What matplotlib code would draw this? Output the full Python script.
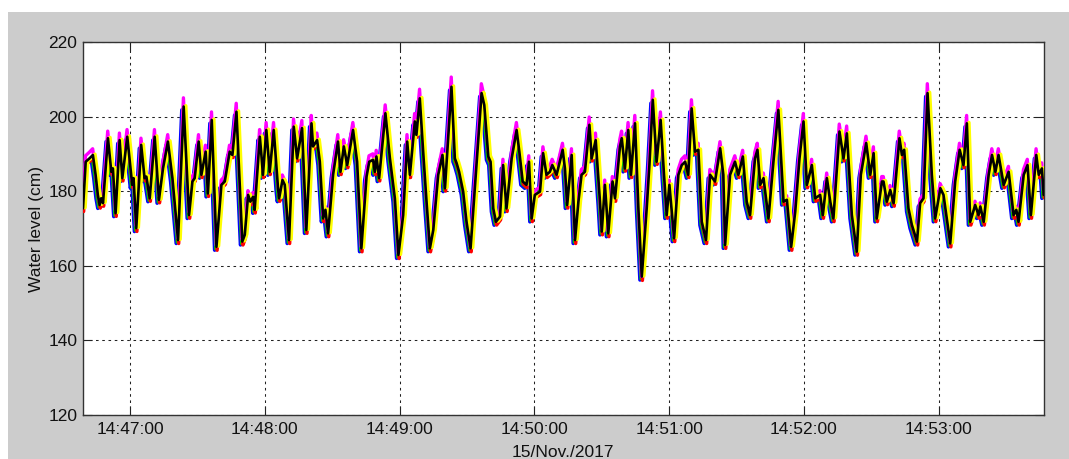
import datetime as dt
import matplotlib
matplotlib.use("Agg")
import matplotlib.pyplot as plt
import matplotlib.dates as mdates
from matplotlib.patches import Rectangle

# Reference gauge record: seconds after 14:47:00 and water level (cm)
elapsed_s = [
    -20.9, -19.7, -18.0, -16.5, -15.3, -14.3, -13.5, -12.8, -12.0, -9.8,
    -8.3, -7.6, -6.4, -4.6, -3.4, -1.2, 1.0, 1.6, 2.8, 5.0,
    6.5, 7.3, 8.8, 11.0, 12.9, 14.7, 16.9, 18.9, 21.4, 23.9,
    26.3, 27.8, 28.8, 30.6, 31.8, 33.7, 34.7, 36.4, 38.5, 40.7,
    42.2, 44.4, 45.6, 47.4, 50.0, 51.1, 52.6, 53.6, 54.8, 55.5,
    57.8, 58.5, 59.2, 60.7, 62.2, 64.0, 65.9, 66.4, 67.9, 68.9,
    70.8, 72.9, 74.4, 76.6, 78.5, 80.8, 81.5, 83.3, 84.5, 86.0,
    87.0, 88.2, 90.4, 92.6, 93.7, 95.2, 96.7, 99.3, 101.1, 103.0,
    105.3, 106.5, 108.2, 109.0, 109.7, 110.9, 113.7, 115.7, 117.9, 119.5,
    121.6, 123.4, 124.6, 126.8, 127.5, 129.0, 130.5, 132.0, 133.5, 135.0,
    137.2, 139.1, 140.2, 143.1, 144.6, 145.4, 146.5, 148.3, 149.8, 151.6,
    156.5, 157.7, 159.5, 160.5, 161.7, 162.9, 164.7, 166.1, 167.6, 169.9,
    172.1, 173.3, 174.8, 176.5, 177.6, 178.8, 180.2, 182.5, 183.9, 185.4,
    186.9, 188.0, 189.9, 192.6, 193.6, 194.6, 196.6, 198.1, 199.6, 201.0,
    202.5, 204.5, 205.5, 207.3, 209.2, 210.0, 211.4, 212.9, 214.8, 215.9,
    218.1, 218.9, 220.3, 221.8, 223.0, 224.8, 226.3, 227.8, 230.0, 231.2,
    232.7, 234.4, 236.2, 237.7, 238.9, 240.1, 242.2, 244.1, 245.6, 247.1,
    248.5, 250.0, 251.5, 253.0, 254.5, 256.4, 258.2, 260.4, 262.7, 264.1,
    264.9, 267.1, 269.3, 270.8, 272.8, 274.5, 276.0, 278.2, 279.3, 280.5,
    282.0, 284.2, 286.4, 288.6, 290.9, 292.4, 294.3, 296.1, 298.0, 299.8,
    301.3, 303.5, 305.0, 307.2, 308.4, 310.2, 311.7, 313.1, 315.8, 317.6,
    319.1, 321.3, 323.5, 325.3, 327.7, 329.5, 331.0, 332.4, 334.7, 335.4,
    336.9, 338.4, 339.9, 342.5, 343.6, 344.6, 346.5, 348.0, 350.3, 351.7,
    353.2, 355.0, 356.9, 358.4, 360.7, 362.1, 365.1, 367.3, 369.3, 371.0,
    372.5, 374.0, 376.2, 377.7, 378.5, 380.0, 382.2, 383.7, 385.2, 386.6,
    388.9, 391.1, 393.3, 394.5, 395.5, 397.8, 399.5, 401.0, 403.4, 404.5,
    405.9, 406.7,
]
level_cm = [
    175.4, 187.9, 188.8, 189.7, 184.4, 179.0, 176.3, 178.1, 176.8, 194.2,
    185.2, 186.1, 174.1, 193.7, 183.5, 194.6, 181.7, 183.5, 170.1, 192.4,
    183.5, 183.9, 178.1, 194.6, 177.7, 186.1, 193.3, 183.5, 166.9, 202.7,
    173.6, 182.6, 183.5, 193.3, 184.4, 190.6, 179.4, 199.1, 165.1, 181.7,
    182.6, 190.6, 189.7, 201.3, 166.5, 168.3, 179.0, 177.2, 178.5, 175.0,
    194.6, 189.7, 184.4, 196.4, 185.2, 196.4, 180.8, 178.1, 183.0, 181.7,
    166.9, 197.3, 188.8, 196.9, 169.6, 198.2, 192.0, 193.7, 187.9, 172.7,
    175.0, 168.7, 184.4, 193.3, 185.2, 192.0, 187.0, 196.4, 187.9, 164.7,
    183.9, 187.9, 188.4, 185.2, 189.3, 183.5, 200.9, 188.8, 178.1, 162.9,
    173.6, 193.3, 184.4, 198.7, 195.1, 204.9, 190.6, 177.2, 164.7, 169.6,
    184.4, 189.7, 180.8, 208.0, 188.8, 187.5, 185.2, 179.9, 171.8, 164.7,
    206.3, 203.1, 189.3, 187.9, 175.4, 171.8, 173.2, 187.0, 175.4, 188.8,
    196.4, 190.6, 182.6, 181.7, 187.9, 172.7, 179.0, 179.9, 190.2, 184.4,
    185.2, 187.0, 184.4, 191.1, 186.1, 176.3, 189.7, 166.9, 177.2, 184.4,
    185.2, 197.8, 188.8, 193.7, 177.2, 169.2, 181.7, 168.7, 182.6, 178.1,
    192.0, 194.2, 186.1, 196.4, 184.4, 198.2, 175.4, 157.1, 175.4, 187.0,
    204.5, 187.9, 199.1, 184.4, 173.6, 181.7, 167.4, 184.4, 187.0, 187.9,
    184.4, 202.2, 190.6, 191.1, 171.8, 166.9, 184.4, 182.6, 191.5, 184.4,
    165.6, 184.4, 187.9, 184.4, 189.3, 177.2, 173.6, 188.8, 191.1, 181.7,
    183.5, 172.7, 187.9, 201.8, 177.2, 177.7, 165.1, 174.5, 188.8, 198.7,
    181.7, 187.0, 178.1, 179.0, 173.6, 183.5, 177.2, 172.7, 196.0, 188.8,
    195.5, 173.6, 163.8, 184.4, 192.9, 184.4, 190.2, 172.7, 182.6, 182.6,
    177.2, 180.3, 176.8, 194.2, 189.7, 191.1, 175.4, 171.0, 166.5, 176.8,
    178.1, 206.3, 184.4, 172.7, 180.8, 179.0, 166.0, 182.6, 191.1, 187.0,
    198.2, 171.8, 176.3, 173.6, 175.9, 171.8, 184.4, 189.7, 185.2, 189.7,
    181.7, 185.2, 173.6, 175.0, 171.8, 184.4, 187.0, 173.6, 189.7, 184.4,
    186.1, 179.0,
]

# Sensors: colour, gain about the mean level, level offset (cm), time lag (s)
sensor_colors = ["#0000ff", "#00c800", "#ff0000", "#ff00ff", "#ffff00", "#000000"]
sensor_gain = [1.00, 1.00, 1.01, 1.05, 1.00, 1.00]
sensor_offset_cm = [-0.9, -0.6, -0.8, 1.2, 0.2, 0.0]
sensor_lag_s = [-0.8, -0.3, 0.3, -0.1, 0.9, 0.0]
sensor_width = [2.6, 2.4, 2.4, 2.4, 2.6, 1.9]
mean_level_cm = 180.0

y_ticks = [120, 140, 160, 180, 200, 220]
x_label = "15/Nov./2017"
y_label = "Water level (cm)"

start = dt.datetime(2017, 11, 15, 14, 47, 0)

plt.rcParams["font.family"] = ["Liberation Sans", "DejaVu Sans"]

fig = plt.figure(figsize=(10.69, 4.59), dpi=100, facecolor="white")
# grey panel behind the axes, leaving a thin white margin at top and left
fig.patches.append(Rectangle((8 / 1069, 0), 1 - 8 / 1069, 1 - 12 / 459,
                             transform=fig.transFigure, facecolor="#cccccc",
                             edgecolor="none", zorder=-10))

ax = fig.add_axes([83 / 1069, 44 / 459, 960.7 / 1069, 373 / 459], zorder=1)
ax.set_facecolor("white")

for color, gain, off, lag, lw in zip(sensor_colors, sensor_gain, sensor_offset_cm,
                                     sensor_lag_s, sensor_width):
    times = [start + dt.timedelta(seconds=s + lag) for s in elapsed_s]
    vals = [mean_level_cm + gain * (v - mean_level_cm) + off for v in level_cm]
    ax.plot(times, vals, color=color, lw=lw, solid_joinstyle="round",
            solid_capstyle="round", zorder=3)

ax.set_xlim(start + dt.timedelta(seconds=elapsed_s[0]),
            start + dt.timedelta(seconds=elapsed_s[-1]))
ax.set_ylim(y_ticks[0], y_ticks[-1])
ax.set_yticks(y_ticks)
ax.xaxis.set_major_locator(mdates.MinuteLocator())
ax.xaxis.set_major_formatter(mdates.DateFormatter("%H:%M:%S"))

ax.grid(True, color="#222222", linestyle=(0, (2.5, 3.5)), linewidth=0.75)
ax.tick_params(direction="in", length=6.5, width=0.8, top=True, right=True,
               labelsize=12.5, colors="#222222", labelcolor="#111111")
ax.tick_params(axis="y", pad=4)
ax.tick_params(axis="x", pad=5)
for sp in ax.spines.values():
    sp.set_color("#333333")
    sp.set_linewidth(1.0)

ax.set_xlabel(x_label, fontsize=12.5, labelpad=6, color="#111111")
ax.set_ylabel(y_label, fontsize=12.5, labelpad=3, color="#111111")

fig.savefig("out.png", dpi=100, facecolor="white")
